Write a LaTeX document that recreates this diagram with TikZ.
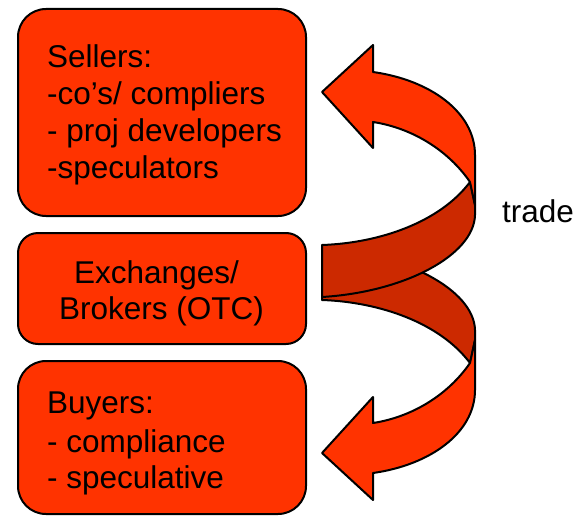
\documentclass[tikz,border=0pt]{standalone}
\usepackage{fontspec}
\setmainfont{Liberation Sans}
\definecolor{bright}{HTML}{FF3300}
\definecolor{darkband}{HTML}{CC2900}
\begin{document}
\begin{tikzpicture}[x=1pt,y=-1pt,
  box/.style={draw=black,line width=2pt,fill=bright,inner sep=0pt,rectangle},
  lbl/.style={inner sep=0pt,font=\fontsize{31.5}{37.5}\selectfont},
  brightband/.style={draw=black,line width=2pt,line join=round,fill=bright},
  darkribbon/.style={draw=black,line width=2pt,line join=round,fill=darkband}]
\useasboundingbox (0,0) rectangle (588,519);
% boxes
\node[box,minimum width=288pt,minimum height=207pt,rounded corners=28pt] (sellers) at (162,112.5) {};
\node[box,minimum width=288pt,minimum height=111pt,rounded corners=20pt] (exch) at (162,288.5) {};
\node[box,minimum width=288pt,minimum height=153pt,rounded corners=28pt] (buyers) at (162,437.5) {};
% texts
\node[lbl,anchor=base west] (s1) at (47,67) {Sellers:};
\node[lbl,anchor=base west] (s2) at (47,104) {-co’s/ compliers};
\node[lbl,anchor=base west] (s3) at (47,141) {- proj developers};
\node[lbl,anchor=base west] (s4) at (47,178) {-speculators};
\node[lbl,anchor=base] (e1) at (156.5,283) {Exchanges/};
\node[lbl,anchor=base] (e2) at (161.5,319) {Brokers (OTC)};
\node[lbl,anchor=base west] (b1) at (47,413) {Buyers:};
\node[lbl,anchor=base west] (b2) at (47,452) {- compliance};
\node[lbl,anchor=base west] (b3) at (47,488) {- speculative};
\node[lbl,anchor=base west] (trade) at (502,222) {trade};
% dark ribbon parts
\draw[darkribbon] (322,300) .. controls (380,302) and (440,323) .. (470,363)
  -- (475,340) -- (475,330) .. controls (474,290) and (405,253) .. (322,248) -- cycle;
\draw[darkribbon] (322,245) .. controls (380,243) and (440,222) .. (470,182)
  -- (475,205) -- (475,215) .. controls (474,255) and (405,292) .. (322,297) -- cycle;
% bright arrows
\draw[brightband] (322,92) -- (373,45) -- (373,72) .. controls (430,80) and (475,112) .. (475,155)
  -- (475,205) -- (470,182) .. controls (448,150) and (412,128) .. (373,122) -- (373,148) -- cycle;
\draw[brightband] (322,453) -- (373,500) -- (373,473) .. controls (430,465) and (475,433) .. (475,390)
  -- (475,340) -- (470,363) .. controls (448,395) and (412,417) .. (373,423) -- (373,397) -- cycle;
\end{tikzpicture}
\end{document}
